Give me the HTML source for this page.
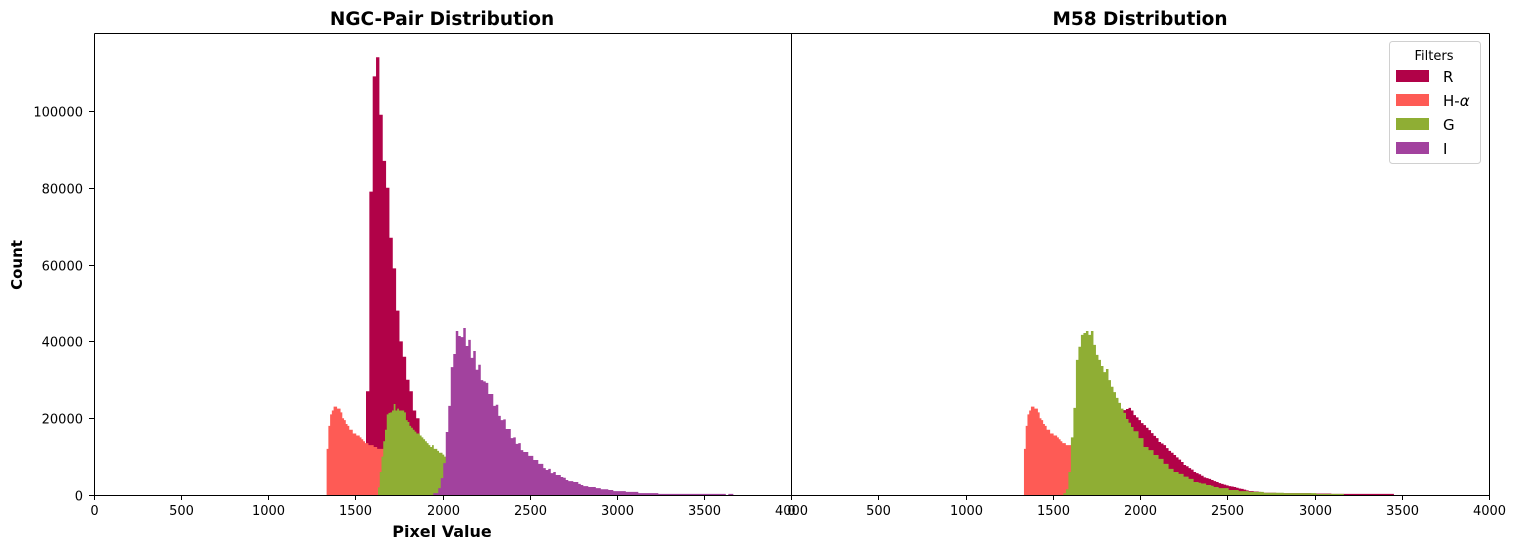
<!DOCTYPE html>
<html><head><meta charset="utf-8">
<style>
html,body{margin:0;padding:0;background:#fff;}
svg{display:block;font-family:"DejaVu Sans","Liberation Sans",sans-serif;}
</style></head>
<body>
<svg id="chart" width="1516" height="549" viewBox="0 0 1516 549" xmlns="http://www.w3.org/2000/svg">
  <rect x="0" y="0" width="1516" height="549" fill="#fff"/>
  <g id="left-marks"></g>
  <g id="right-marks"></g>
  <g id="axes"></g>
  <text x="442" y="25" text-anchor="middle" font-size="18.5" font-weight="bold">NGC-Pair Distribution</text>
  <text x="1140" y="25" text-anchor="middle" font-size="18.5" font-weight="bold">M58 Distribution</text>
  <text x="442" y="537" text-anchor="middle" font-size="16" font-weight="bold">Pixel Value</text>
  <text transform="translate(22,265) rotate(-90)" text-anchor="middle" font-size="15" font-weight="bold">Count</text>
  <g>
    <rect x="1389.5" y="41.5" width="91" height="122" rx="3" fill="#fff" fill-opacity="0.8" stroke="#d0d0d0"/>
    <text x="1434" y="60" text-anchor="middle" font-size="13">Filters</text>
    <g><rect x="1396" y="70" width="33" height="12" fill="#b10248"/><text x="1443" y="82" font-size="15">R</text></g>
    <g><rect x="1396" y="94" width="33" height="12" fill="#fe5b55"/><text x="1443" y="106" font-size="15">H-<tspan font-style="italic">α</tspan></text></g>
    <g><rect x="1396" y="118" width="33" height="12" fill="#8fae34"/><text x="1443" y="130" font-size="15">G</text></g>
    <g><rect x="1396" y="142" width="33" height="12" fill="#a2429e"/><text x="1443" y="154" font-size="15">I</text></g>
  </g>
</svg>
<script>
// ---- data (counts in thousands) ----
const xTicks = [0,500,1000,1500,2000,2500,3000,3500,4000];
const yTicks = [0,20000,40000,60000,80000,100000];

const rLeftStart = 1561, rLeftWidth = 19.2;
const rLeftCounts = [27,79,109,114,99,87,80,67,59,48,40,36,30,27,22,20];

const haStart = 1335, haWidth = 10;
const haCounts = [12,18,21,22,23,23,22.5,22.5,21.5,20,19.5,18.5,18,17,17,16,16,15.5,15.5,15,14.5,14,13.5,13.5,13,13,13,12.5,12.5,12,12,12,12];

const gLeftStart = 1630, gLeftWidth = 10;
const gLeftCounts = [2,6,10,14,17,21,21.4,21.5,22,23.7,22,22.5,22,22,22,21.5,19.5,19,18,17.5,17,16.5,16,16,15.5,15,14.5,14,13.5,13,12.5,13,12,12,11.5,11,11,10.5,10,10,9.8,9.5,9.2];

const iStart = 1947, iWidth = 14.35;
const iCounts = [0.5,0.5,1.8,4.4,8.3,16.4,23.2,33.3,36.7,42.7,41.4,41.1,43.5,38.8,40.4,35.7,37.5,32.6,33.9,29.9,29.6,29.2,26.3,26.3,23.2,23.5,20.6,19.5,19.7,17.2,17.2,14.8,15.0,13.3,13.5,11.7,11.2,11.2,10.2,10.2,9.1,9.1,8.1,8.1,7.0,6.5,6.8,5.7,6.0,5.2,5.2,4.7,4.5,3.9,3.6,3.6,3.4,3.4,2.9,2.6,2.3,2.3,2.1,2.1,2.1,1.8,1.8,1.5,1.5,1.5,1.3,1.3,1.0,1.0,1.0,1.0,1.0,0.8,0.8,0.8,0.8,0.8,0.5,0.5,0.5,0.5,0.5,0.5,0.5,0.5,0.3,0.3,0.3,0.3,0.3,0.3,0.3,0.3,0.3,0.3,0.3,0.3,0.3,0.3,0.3,0.3,0.3,0.3,0.3,0.3,0.3,0.3,0.3,0.3,0.3,0.3,0.3,0,0.3,0.3];

const gRightStart = 1561, gRightWidth = 14.35;
const gRightCounts = [0.5,1.5,6,15,22.7,35.2,38.6,41.7,42.2,42.7,41.7,42.7,39.1,36.5,35.2,33.6,32.0,32.8,29.9,28.2,26.8,25.3,24.0,22.5,21.4,19.8,18.8,17.7,16.6,16.6,14.8,14.8,12.5,12.5,11.7,11.7,10.4,10.4,9.4,9.4,8.1,8.1,6.8,6.8,6.0,6.0,5.5,5.5,4.8,4.8,4.2,4.2,3.4,3.4,3.2,3.0,3.0,2.6,2.6,2.4,2.1,2.1,1.8,1.8,1.8,1.8,1.3,1.3,1.3,1.3,1.0,1.0,1.0,1.0,0.8,0.8,0.8,0.8,0.8,0.8,0.6,0.6,0.6,0.6,0.6,0.6,0.6,0.6,0.5,0.5,0.5,0.5,0.5,0.5,0.5,0.5,0.5,0.5,0.5,0.5,0.5,0.3,0.3,0.3,0.3,0.3,0.3,0.3,0.3,0.3,0.3,0.3];

const rRightStart = 1561, rRightWidth = 14.35;
const rRightCounts = [1,3,6,9,12,14,15,16,17,18,18.5,19,19.5,20,20.5,21,21.5,21.5,22,22,22,22,22,22,22.1,22.4,22.7,22.0,20.8,20.2,19.5,18.7,18.2,17.5,16.9,16.1,15.4,14.8,13.8,13.4,13.0,12.2,11.5,11.0,10.4,9.8,9.2,8.6,7.8,7.5,7.0,6.6,6.0,5.7,5.4,5.0,4.6,4.4,4.2,3.9,3.6,3.4,3.1,2.9,2.7,2.5,2.3,2.2,2.1,1.9,1.7,1.6,1.4,1.2,1.0,1.0,0.9,0.9,0.8,0.7,0.6,0.6,0.6,0.6,0.6,0.5,0.5,0.5,0.5,0.5,0.5,0.5,0.5,0.5,0.5,0.5,0.5,0.5,0.5,0.4,0.4,0.4,0.4,0.4,0.4,0.4,0.4,0.3,0.3,0.3,0.3,0.3,0.3,0.3,0.3,0.3,0.3,0.3,0.3,0.3,0.3,0.3,0.3,0.3,0.3,0.3,0.3,0.3,0.3,0.3,0.3,0.3];

// ---- scales ----
const plotTop = 33, plotBottom = 495;
const yMax = 120300;
function yScale(v){ return plotBottom - v/yMax*(plotBottom-plotTop); }
function xScaleL(v){ return 94 + v/4000*697; }
function xScaleR(v){ return 791 + v/4000*698; }

const NS = "http://www.w3.org/2000/svg";
function stepPath(start, width, counts, xs){
  let d = "M" + xs(start).toFixed(2) + "," + plotBottom;
  counts.forEach((c,i)=>{
    const x0 = xs(start + i*width), x1 = xs(start + (i+1)*width);
    const y = yScale(c*1000);
    d += "L" + x0.toFixed(2) + "," + y.toFixed(2) + "L" + x1.toFixed(2) + "," + y.toFixed(2);
  });
  d += "L" + xs(start + counts.length*width).toFixed(2) + "," + plotBottom + "Z";
  return d;
}
function addSeries(group, start, width, counts, xs, color, name){
  const p = document.createElementNS(NS,"path");
  p.setAttribute("d", stepPath(start,width,counts,xs));
  p.setAttribute("fill", color);
  
  
  group.appendChild(p);
}
const gl = document.getElementById("left-marks");
addSeries(gl, rLeftStart, rLeftWidth, rLeftCounts, xScaleL, "#b10248", "r-histogram-left");
addSeries(gl, haStart, haWidth, haCounts, xScaleL, "#fe5b55", "h-alpha-histogram-left");
addSeries(gl, gLeftStart, gLeftWidth, gLeftCounts, xScaleL, "#8fae34", "g-histogram-left");
addSeries(gl, iStart, iWidth, iCounts, xScaleL, "#a2429e", "i-histogram-left");
const gr = document.getElementById("right-marks");
addSeries(gr, rRightStart, rRightWidth, rRightCounts, xScaleR, "#b10248", "r-histogram-right");
addSeries(gr, haStart, haWidth, haCounts, xScaleR, "#fe5b55", "h-alpha-histogram-right");
addSeries(gr, gRightStart, gRightWidth, gRightCounts, xScaleR, "#8fae34", "g-histogram-right");

// ---- axes ----
const ax = document.getElementById("axes");
function line(x1,y1,x2,y2,name){
  const l = document.createElementNS(NS,"line");
  l.setAttribute("x1",x1);l.setAttribute("y1",y1);l.setAttribute("x2",x2);l.setAttribute("y2",y2);
  l.setAttribute("stroke","#000");l.setAttribute("stroke-width","1");
  
  
  ax.appendChild(l);
}
function text(x,y,s,anchor,name){
  const t = document.createElementNS(NS,"text");
  t.setAttribute("x",x);t.setAttribute("y",y);t.setAttribute("text-anchor",anchor);
  t.setAttribute("font-size","13");
  t.textContent = s;
  
  
  ax.appendChild(t);
}
line(94.5,33.5,791.5,33.5,"left-top-spine");
line(94.5,495.5,791.5,495.5,"left-bottom-spine");
line(94.5,33.5,94.5,495.5,"left-left-spine");
line(791.5,33.5,791.5,495.5,"panel-divider-spine");
line(791.5,33.5,1489.5,33.5,"right-top-spine");
line(791.5,495.5,1489.5,495.5,"right-bottom-spine");
line(1489.5,33.5,1489.5,495.5,"right-right-spine");
xTicks.forEach(v=>{
  const xl = Math.round(xScaleL(v))+0.5;
  line(xl,495,xl,500,"x-tick-left");
  text(xl,515,String(v),"middle","x-tick-label-left");
  const xr = Math.round(xScaleR(v))+0.5;
  line(xr,495,xr,500,"x-tick-right");
  text(xr,515,String(v),"middle","x-tick-label-right");
});
yTicks.forEach(v=>{
  const y = Math.round(yScale(v))+0.5;
  line(89,y,94,y,"y-tick");
  text(83,y+5,String(v),"end","y-tick-label");
});
</script>
</body></html>
